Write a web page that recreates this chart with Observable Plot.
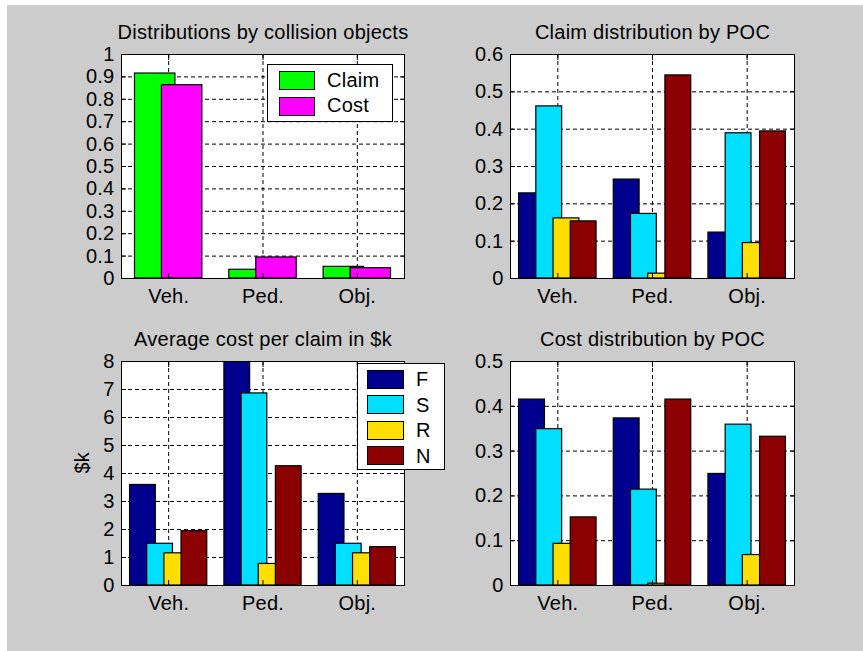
<!DOCTYPE html>
<html><head><meta charset="utf-8">
<script src="https://cdn.jsdelivr.net/npm/d3@7"></script>
<script src="https://cdn.jsdelivr.net/npm/@observablehq/plot@0.6"></script>
<style>
html,body{margin:0;padding:0;background:#fff;}
#fig{position:relative;width:863px;height:651px;background:#fff;overflow:hidden;font-family:"Liberation Sans",Arial,sans-serif;}
#bg{position:absolute;left:7px;top:5px;right:0;bottom:0;background:#cccccc;}
.panel{position:absolute;}
.panel svg text{letter-spacing:0.25px;}
.legend{position:absolute;background:#fff;border:1px solid #000;box-sizing:border-box;}
.sw{position:absolute;border:1px solid #000;box-sizing:border-box;}
.lt{position:absolute;font-size:20px;line-height:20px;letter-spacing:0.25px;color:#000;white-space:nowrap;}
</style></head><body>
<div id="fig"><div id="bg"></div></div>
<script>
// ---- data ----
const categories = ["Veh.", "Ped.", "Obj."];
const objSeries = ["Claim", "Cost"];
const objColors = ["#00ff00", "#ff00ff"];
const claimShare = [0.915, 0.039, 0.052];
const costShare = [0.863, 0.094, 0.046];

const pocSeries = ["F", "S", "R", "N"];
const pocColors = ["#00008f", "#00dfff", "#ffdf00", "#8b0000"];
// rows: F, S, R, N ; columns: Veh., Ped., Obj.
const claimPOC = [
  [0.228, 0.265, 0.123],
  [0.461, 0.173, 0.389],
  [0.161, 0.013, 0.095],
  [0.153, 0.544, 0.394]
];
const avgCostPOC = [
  [3.59, 8.0, 3.27],
  [1.49, 6.86, 1.49],
  [1.15, 0.77, 1.15],
  [1.94, 4.26, 1.37]
];
const costPOC = [
  [0.415, 0.373, 0.249],
  [0.349, 0.214, 0.359],
  [0.093, 0.004, 0.068],
  [0.152, 0.415, 0.332]
];
const ticksTL = [0, 0.1, 0.2, 0.3, 0.4, 0.5, 0.6, 0.7, 0.8, 0.9, 1];
const ticksTR = [0, 0.1, 0.2, 0.3, 0.4, 0.5, 0.6];
const ticksBL = [0, 1, 2, 3, 4, 5, 6, 7, 8];
const ticksBR = [0, 0.1, 0.2, 0.3, 0.4, 0.5];

// ---- helpers ----
const fig = document.getElementById("fig");
const fmt = d => String(+(+d).toFixed(3));

function barsFrom(rows, colors) {
  const n = rows.length;
  const gw = Math.min(0.8, n / (n + 1.5));
  const sp = gw / n;
  const w = sp * 1.5;
  const out = [];
  rows.forEach((vals, s) => {
    const off = (s - (n - 1) / 2) * sp;
    vals.forEach((v, i) => {
      out.push({x1: i + 1 + off - w / 2, x2: i + 1 + off + w / 2, v, c: colors[s]});
    });
  });
  return out;
}

function panel({left, top, width, height, m, yDomain, yTicks, rows, colors, title, ylabel}) {
  const bars = barsFrom(rows, colors);
  const marks = [
    Plot.frame({fill: "white", stroke: null}),
    Plot.gridX({ticks: [1, 2, 3], stroke: "black", strokeOpacity: 1, strokeDasharray: "4,3", strokeWidth: 1}),
    Plot.gridY({ticks: yTicks, stroke: "black", strokeOpacity: 1, strokeDasharray: "4,3", strokeWidth: 1}),
    Plot.rectY(bars, {x1: "x1", x2: "x2", y: "v", fill: "c", stroke: "black", strokeWidth: 1.2, inset: 0, clip: true}),
    Plot.axisY({ticks: yTicks, tickFormat: fmt, tickSize: 0, tickPadding: 7, label: null, fontSize: 20}),
    Plot.axisY({ticks: yTicks, anchor: "left", tickSize: -5, tickFormat: () => "", label: null}),
    Plot.axisY({ticks: yTicks, anchor: "right", tickSize: -5, tickFormat: () => "", label: null}),
    Plot.axisX({ticks: [1, 2, 3], tickFormat: i => categories[i - 1], tickSize: 0, tickPadding: 10, label: null, fontSize: 20}),
    Plot.axisX({ticks: [1, 2, 3], anchor: "bottom", tickSize: -5, tickFormat: () => "", label: null}),
    Plot.axisX({ticks: [1, 2, 3], anchor: "top", tickSize: -5, tickFormat: () => "", label: null}),
    Plot.frame({stroke: "black", strokeWidth: 1}),
    Plot.text([title], {frameAnchor: "top", dy: -16, lineAnchor: "bottom", fontSize: 20, fill: "black"})
  ];
  if (ylabel) marks.push(Plot.text([ylabel], {frameAnchor: "left", dx: -39, rotate: -90, fontSize: 20, fill: "black"}));
  const chart = Plot.plot({
    width, height,
    marginLeft: m[0], marginTop: m[1], marginRight: m[2], marginBottom: m[3],
    x: {domain: [0.5, 3.5]},
    y: {domain: yDomain},
    color: {type: "identity"},
    style: {background: "transparent", fontFamily: "Liberation Sans, Arial, sans-serif", fontSize: "20px", color: "black", overflow: "visible"},
    marks
  });
  const wrap = document.createElement("div");
  wrap.className = "panel";
  wrap.style.left = left + "px";
  wrap.style.top = top + "px";
  wrap.appendChild(chart);
  fig.appendChild(wrap);
}

function legend({left, top, w, h, items, colors, swL, swW, swH, swTops, txL, txTops}) {
  const box = document.createElement("div");
  box.className = "legend";
  Object.assign(box.style, {left: left + "px", top: top + "px", width: w + "px", height: h + "px"});
  items.forEach((name, k) => {
    const sw = document.createElement("div");
    sw.className = "sw";
    Object.assign(sw.style, {left: swL + "px", top: swTops[k] + "px", width: swW + "px", height: swH + "px", background: colors[k]});
    box.appendChild(sw);
    const t = document.createElement("div");
    t.className = "lt";
    t.textContent = name;
    Object.assign(t.style, {left: txL + "px", top: txTops[k] + "px"});
    box.appendChild(t);
  });
  fig.appendChild(box);
}

// ---- panels ----
panel({left: 0, top: 0, width: 431, height: 320, m: [121, 54, 27, 42],
  yDomain: [0, 1], yTicks: ticksTL, rows: [claimShare, costShare], colors: objColors,
  title: "Distributions by collision objects"});
panel({left: 431, top: 0, width: 432, height: 320, m: [79, 54, 69, 42],
  yDomain: [0, 0.6], yTicks: ticksTR, rows: claimPOC, colors: pocColors,
  title: "Claim distribution by POC"});
panel({left: 0, top: 320, width: 431, height: 331, m: [121, 41, 27, 66],
  yDomain: [0, 8], yTicks: ticksBL, rows: avgCostPOC, colors: pocColors,
  title: "Average cost per claim in $k", ylabel: "$k"});
panel({left: 431, top: 320, width: 432, height: 331, m: [79, 41, 69, 66],
  yDomain: [0, 0.5], yTicks: ticksBR, rows: costPOC, colors: pocColors,
  title: "Cost distribution by POC"});

// ---- legends ----
legend({left: 267, top: 64, w: 126, h: 58, items: objSeries, colors: objColors,
  swL: 11, swW: 36, swH: 19, swTops: [6, 32], txL: 59, txTops: [5, 30]});
legend({left: 357, top: 363, w: 88, h: 107, items: pocSeries, colors: pocColors,
  swL: 9, swW: 37, swH: 19, swTops: [6, 31, 57, 82], txL: 58, txTops: [5, 30.5, 56, 81.5]});
</script>
</body></html>
